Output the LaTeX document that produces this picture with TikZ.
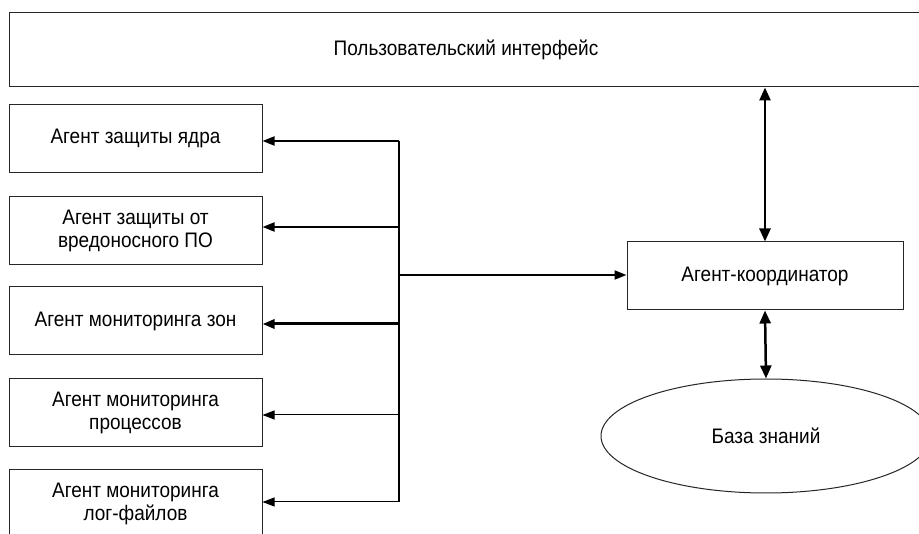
\documentclass[tikz,border=0pt]{standalone}
\usepackage{fontspec}
\setmainfont{Liberation Sans}[FakeStretch=0.905]
\usetikzlibrary{arrows.meta,shapes.geometric}
\begin{document}
\begin{tikzpicture}[x=1pt,y=-1pt,
  font=\fontsize{21}{23}\selectfont,
  box/.style={draw=black!85, line width=1pt, minimum width=253pt, minimum height=68pt, align=center, inner sep=0pt},
  tip/.style={-{Triangle[length=12pt,width=9pt]}},
  both/.style={{Triangle[length=13pt,width=11pt]}-{Triangle[length=13pt,width=11pt]}}]
\useasboundingbox (0,0) rectangle (919,534);
\clip (0,0) rectangle (919,534);
\fill[white] (0,0) rectangle (919,534);

\node[box, minimum width=914pt, minimum height=74pt] (ui) at (466,50) {Пользовательский интерфейс};

\node[box] (k1) at (135.5,138.5) {Агент защиты ядра};
\node[box] (k2) at (135.5,230.5) {Агент защиты от\\вредоносного ПО};
\node[box] (k3) at (135.5,321) {Агент мониторинга зон};
\node[box] (k4) at (135.5,413) {Агент мониторинга\\процессов};
\node[box] (k5) at (135.5,504) {Агент мониторинга\\лог-файлов};

\node[box, minimum width=276pt] (coord) at (765,276) {Агент-координатор};
\node[draw=black!85, line width=1pt, ellipse, minimum width=330pt, minimum height=114pt, inner sep=0pt] (kb) at (766,436) {База знаний};

\coordinate (j1) at (399,141);
\coordinate (j2) at (399,227);
\coordinate (jc) at (399,275);
\coordinate (j3) at (399,324);
\coordinate (j4) at (399,415);
\coordinate (j5) at (399,502);

\draw[line width=1.5pt] (j1) -- (j5);
\draw[tip, line width=2pt] (j1) -- (j1 -| k1.east);
\draw[tip, line width=2pt] (j2) -- (j2 -| k2.east);
\draw[tip, line width=3pt] (j3) -- (j3 -| k3.east);
\draw[tip, line width=1pt] (j4) -- (j4 -| k4.east);
\draw[tip, line width=1pt] (j5) -- (j5 -| k5.east);
\draw[tip, line width=2pt] (jc) -- (jc -| coord.west);

\draw[both, line width=2.5pt] (ui.south -| coord) -- (coord.north);
\draw[both, line width=2.5pt] (coord.south) -- (kb.north);
\end{tikzpicture}
\end{document}
